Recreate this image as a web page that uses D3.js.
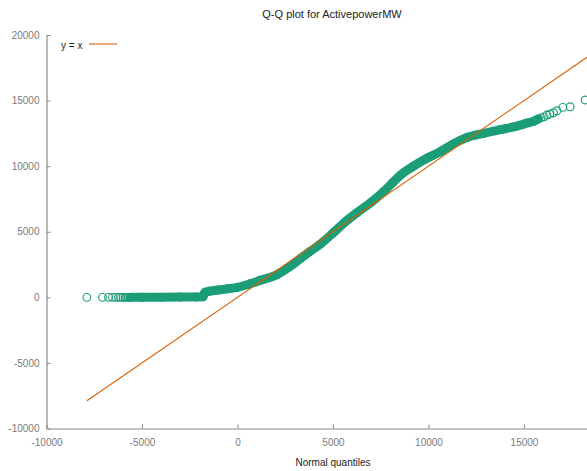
<!DOCTYPE html>
<html>
<head>
<meta charset="utf-8">
<script src="https://cdn.jsdelivr.net/npm/d3@7"></script>
<style>
  html, body { margin: 0; padding: 0; background: #fff; }
  svg { display: block; font-family: "Liberation Sans", Arial, sans-serif; }
</style>
</head>
<body>
<svg id="chart" width="587" height="471"></svg>
<script>
// ---- data ----
const chartTitle = "Q-Q plot for ActivepowerMW";
const xLabel = "Normal quantiles";
const legendLabel = "y = x";
const xTicks = [-10000, -5000, 0, 5000, 10000, 15000];
const yTicks = [-10000, -5000, 0, 5000, 10000, 15000, 20000];

// sparse tail points (normal quantile, sample value)
const leftTailX = [-7885, -7068, -6754, -6545, -6366, -6230, -6105, -5990, -5885, -5790, -5700, -5620];
const leftTailY = [0, 0, 0, 0, 0, 0, 0, 0, 0, 0, 0, 0];
const rightTailX = [15900, 16050, 16199, 16350, 16545, 16723, 17037, 17419, 18204];
const rightTailY = [13680, 13760, 13898, 13960, 14073, 14226, 14485, 14531, 15045];

// dense (over-plotted) part of the sample quantiles
const bandX = [-5560, -5000, -4000, -3000, -2200, -1800, -1760, -1700, -1466, -1000, -500, 0,
               665, 1200, 2063, 2700, 3283, 3800, 4330, 5000, 5600, 6251, 7000, 7644, 8100,
               8518, 9215, 9916, 10613, 11300, 12010, 12880, 13754, 14628, 15200, 15500, 15750];
const bandY = [0, 5, 10, 20, 30, 40, 250, 400, 465, 560, 650, 760,
               1030, 1300, 1720, 2300, 2940, 3500, 4050, 4900, 5700, 6450, 7250, 8050, 8700,
               9300, 10000, 10600, 11100, 11700, 12180, 12500, 12780, 13050, 13300, 13420, 13600];

// reference line y = x, spanning the normal quantiles
const refLineX = [-7885, 18300];

const xDomain = [-10000, 18300];
const yDomain = [-10000, 20000];

// ---- drawing ----
const green = "#1b9e77", orange = "#d95f02", axisGrey = "#8a8a8a", labelGrey = "#7a7a7a";
const svg = d3.select("#chart");
const x = d3.scaleLinear().domain(xDomain).range([46.5, 587]);
const y = d3.scaleLinear().domain(yDomain).range([428.5, 35]);
const fmt = d => String(d);

// title
svg.append("text").attr("x", 332).attr("y", 18).attr("text-anchor", "middle")
  .attr("font-size", 11).attr("fill", "#222").text(chartTitle);

// axes
const xAxis = d3.axisBottom(x).tickValues(xTicks).tickSizeInner(-4).tickSizeOuter(0).tickPadding(8)
  .tickFormat(fmt);
const gx = svg.append("g").attr("transform", `translate(0,${y(-10000)})`).call(xAxis);
const yAxis = d3.axisLeft(y).tickValues(yTicks).tickSizeInner(-4).tickSizeOuter(0).tickPadding(7)
  .tickFormat(fmt);
const gy = svg.append("g").attr("transform", `translate(${x(-10000)},0)`).call(yAxis);
[gx, gy].forEach(g => {
  g.select(".domain").attr("stroke", axisGrey).attr("stroke-width", 1.2);
  g.selectAll(".tick line").attr("stroke", axisGrey);
  g.selectAll(".tick text").attr("fill", labelGrey).attr("font-size", 10)
    .attr("font-family", "Liberation Sans, Arial, sans-serif");
});
gx.selectAll(".tick text").attr("dy", "0.9em");

svg.append("text").attr("x", 333).attr("y", 466).attr("text-anchor", "middle")
  .attr("font-size", 10).attr("fill", "#222").text(xLabel);

// plot clip
svg.append("clipPath").attr("id", "clip").append("rect")
  .attr("x", 46).attr("y", 0).attr("width", 541).attr("height", 429);
const plot = svg.append("g").attr("clip-path", "url(#clip)");

const r = 3.9;
// dense band: overplotted circles
const band = bandX.map((d, i) => [d, bandY[i]]);
plot.append("path").datum(band)
  .attr("d", d3.line().x(d => x(d[0])).y(d => y(d[1])).curve(d3.curveMonotoneX))
  .attr("fill", "none").attr("stroke", green).attr("stroke-width", 2 * r + 1.2)
  .attr("stroke-linecap", "round").attr("stroke-linejoin", "round");
plot.selectAll("circle.band").data(band).join("circle").attr("class", "band")
  .attr("cx", d => x(d[0])).attr("cy", d => y(d[1])).attr("r", r)
  .attr("fill", "none").attr("stroke", green).attr("stroke-width", 1.1);

const tails = leftTailX.map((d, i) => [d, leftTailY[i]])
  .concat(rightTailX.map((d, i) => [d, rightTailY[i]]));
plot.selectAll("circle.tail").data(tails).join("circle").attr("class", "tail")
  .attr("cx", d => x(d[0])).attr("cy", d => y(d[1])).attr("r", r)
  .attr("fill", "none").attr("stroke", green).attr("stroke-width", 1.1);

// y = x line
plot.append("line")
  .attr("x1", x(refLineX[0])).attr("y1", y(refLineX[0]))
  .attr("x2", x(refLineX[1])).attr("y2", y(refLineX[1]))
  .attr("stroke", orange).attr("stroke-width", 1.1);

// legend
svg.append("text").attr("x", 61).attr("y", 49).attr("font-size", 10).attr("fill", "#222").text(legendLabel);
svg.append("line").attr("x1", 89).attr("x2", 117).attr("y1", 44).attr("y2", 44)
  .attr("stroke", orange).attr("stroke-width", 1.1);
</script>
</body>
</html>
